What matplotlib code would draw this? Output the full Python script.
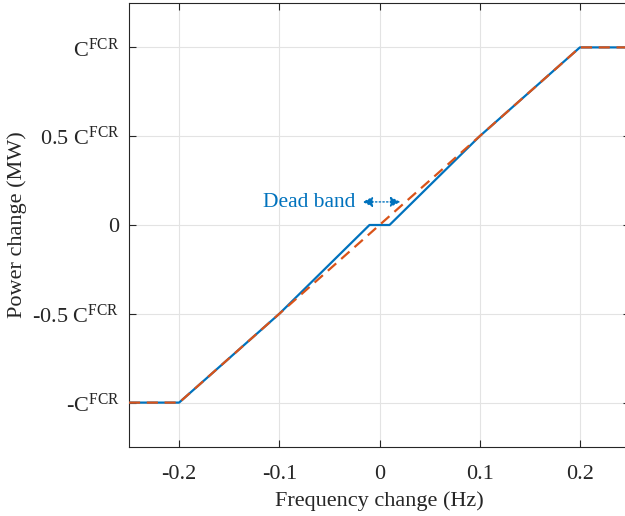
import matplotlib
matplotlib.use("Agg")
import matplotlib.pyplot as plt

plt.rcParams['font.family'] = ['Liberation Serif', 'DejaVu Serif']
plt.rcParams['mathtext.fontset'] = 'custom'
plt.rcParams['mathtext.rm'] = 'Liberation Serif'
plt.rcParams['mathtext.it'] = 'Liberation Serif:italic'

# data
blue_x = [-0.25, -0.2, -0.1, -0.01, 0.01, 0.1, 0.2, 0.25]
blue_y = [-1, -1, -0.5, 0, 0, 0.5, 1, 1]
orange_x = [-0.25, -0.2, 0.2, 0.25]
orange_y = [-1, -1, 1, 1]
xticks = [-0.2, -0.1, 0, 0.1, 0.2]
xticklabels = ['-0.2', '-0.1', '0', '0.1', '0.2']
yticks = [-1, -0.5, 0, 0.5, 1]
yticklabels = [r'-C$^{\mathrm{FCR}}$', r'-0.5 C$^{\mathrm{FCR}}$', '0',
               r'0.5 C$^{\mathrm{FCR}}$', r'C$^{\mathrm{FCR}}$']
dead_band = [-0.01, 0.01]

BLUE = '#0072BD'
ORANGE = '#D95319'

fig = plt.figure(figsize=(6.25, 5.16), dpi=100)
ax = fig.add_axes([129/625, 69/516, 501/625, 444/516])
ax.plot(blue_x, blue_y, color=BLUE, lw=1.6, zorder=3)
ax.plot(orange_x, orange_y, color=ORANGE, lw=1.6, ls=(0, (5, 3)), zorder=4)

ax.set_xlim(-0.25, 0.25)
ax.set_ylim(-1.25, 1.25)
ax.set_xticks(xticks)
ax.set_xticklabels(xticklabels)
ax.set_yticks(yticks)
ax.set_yticklabels(yticklabels)
ax.grid(True, color='#e3e3e3', lw=0.8, zorder=0)
ax.set_axisbelow(True)
ax.tick_params(direction='in', top=True, right=True, length=5, width=0.8,
               labelsize=16, colors='#262626', pad=7)
ax.tick_params(axis='x', pad=13)
for s in ax.spines.values():
    s.set_color('#262626')
    s.set_linewidth(0.8)
ax.set_xlabel('Frequency change (Hz)', fontsize=16, color='#262626', labelpad=5)
ax.set_ylabel('Power change (MW)', fontsize=16, color='#262626', labelpad=4)

ax.annotate('', xy=(dead_band[0] - 0.007, 0.13), xytext=(dead_band[1] + 0.011, 0.13),
            arrowprops=dict(arrowstyle='<|-|>', color=BLUE, lw=1.0, ls=':',
                            mutation_scale=15, shrinkA=0, shrinkB=0))
ax.text(-0.024, 0.128, 'Dead band', color=BLUE, fontsize=15.5, ha='right', va='center')

fig.savefig('out.png', dpi=100)
